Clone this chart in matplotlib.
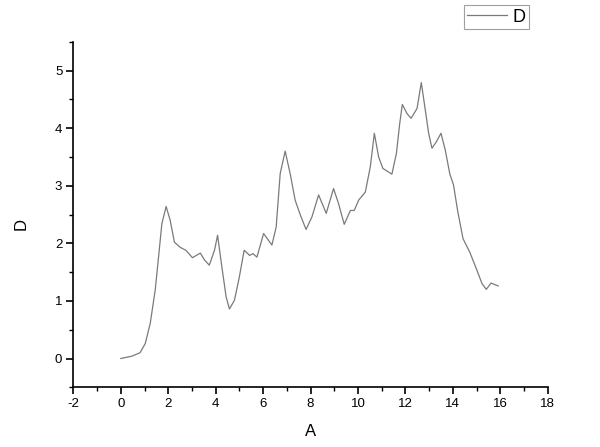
import matplotlib
matplotlib.use("Agg")
import matplotlib.pyplot as plt
from matplotlib.ticker import MultipleLocator

plt.rcParams['font.family'] = ['Liberation Sans', 'DejaVu Sans']
plt.rcParams['axes.unicode_minus'] = False

x_vals = [0.0, 0.46, 0.81, 1.03, 1.24, 1.45, 1.59, 1.73, 1.91, 2.08, 2.26, 2.50, 2.74,
          3.02, 3.35, 3.53, 3.73, 3.95, 4.08, 4.26, 4.44, 4.58, 4.79, 4.99, 5.20,
          5.43, 5.57, 5.74, 6.02, 6.37, 6.55, 6.72, 6.93, 7.14, 7.35, 7.57, 7.81,
          8.06, 8.34, 8.66, 8.97, 9.18, 9.42, 9.68, 9.84, 10.03, 10.31, 10.52, 10.69,
          10.87, 11.05, 11.43, 11.62, 11.76, 11.87, 12.07, 12.24, 12.49, 12.67, 12.84,
          12.98, 13.12, 13.30, 13.50, 13.68, 13.87, 14.03, 14.20, 14.43, 14.71, 14.99,
          15.23, 15.41, 15.61, 15.91]
y_vals = [0.0, 0.04, 0.10, 0.26, 0.61, 1.19, 1.76, 2.34, 2.64, 2.40, 2.02, 1.93, 1.88,
          1.75, 1.83, 1.71, 1.62, 1.88, 2.14, 1.59, 1.07, 0.86, 1.01, 1.40, 1.88,
          1.79, 1.82, 1.76, 2.17, 1.97, 2.28, 3.21, 3.60, 3.21, 2.75, 2.49, 2.24,
          2.46, 2.84, 2.52, 2.95, 2.69, 2.33, 2.57, 2.57, 2.75, 2.89, 3.33, 3.91,
          3.50, 3.30, 3.20, 3.56, 4.08, 4.41, 4.25, 4.17, 4.34, 4.79, 4.31,
          3.91, 3.65, 3.76, 3.91, 3.62, 3.21, 3.01, 2.57, 2.08, 1.85, 1.56,
          1.30, 1.20, 1.31, 1.26]

x_ticks = [-2, 0, 2, 4, 6, 8, 10, 12, 14, 16, 18]
y_ticks = [0, 1, 2, 3, 4, 5]

fig = plt.figure(figsize=(6.0, 4.47), dpi=100)
ax = fig.add_axes([73.4/600, 1-387.3/447, (547.7-73.4)/600, (387.3-41.7)/447])

line, = ax.plot(x_vals, y_vals, color='#7a7a7a', lw=0.9, label='D',
                solid_joinstyle='round')

ax.set_xlim(-2, 18)
ax.set_ylim(-0.5, 5.5)
ax.set_xticks(x_ticks)
ax.set_yticks(y_ticks)
ax.xaxis.set_minor_locator(MultipleLocator(1))
ax.yaxis.set_minor_locator(MultipleLocator(0.5))

for s in ['top', 'right']:
    ax.spines[s].set_visible(False)
for s in ['left', 'bottom']:
    ax.spines[s].set_linewidth(1.2)
    ax.spines[s].set_color('black')

ax.tick_params(which='major', direction='out', length=5, width=1.2, labelsize=9.5, pad=3)
ax.tick_params(which='minor', direction='out', length=3, width=1.0)

ax.set_xlabel('A', fontsize=12)
ax.set_ylabel('D', fontsize=12)
ax.xaxis.set_label_coords(0.5, -(432-387.3)/345.6, transform=ax.transAxes)
ax.yaxis.set_label_coords(-(73.4-21)/474.3, (387.3-224)/345.6)
ax.xaxis.label.set_verticalalignment('center')
ax.yaxis.label.set_verticalalignment('center')

leg = fig.legend(handles=[line], labels=['D'], loc='upper right',
                 bbox_to_anchor=(529/600, 1-5/447), bbox_transform=fig.transFigure,
                 fontsize=13, frameon=True, fancybox=False, handlelength=2.2,
                 handletextpad=0.3, borderpad=0.2, borderaxespad=0)
leg.get_frame().set_edgecolor('#888888')
leg.get_frame().set_linewidth(0.8)

fig.savefig('out.png', dpi=100)
